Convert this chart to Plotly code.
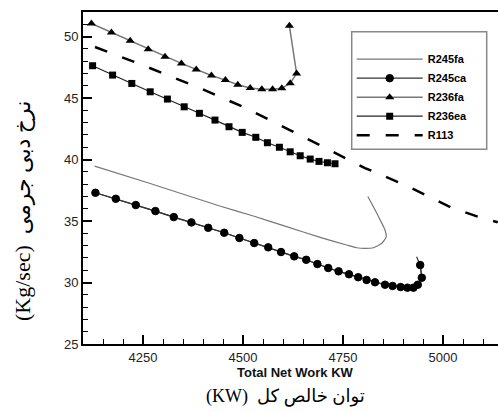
import plotly.graph_objects as go

# ---------------- data ----------------
r245fa_x = [4129, 4266, 4442, 4526, 4609, 4693, 4759, 4784, 4805, 4826, 4847, 4858, 4855, 4843, 4826, 4812]
r245fa_y = [39.47, 38.07, 36.22, 35.41, 34.54, 33.67, 33.05, 32.83, 32.78, 32.83, 33.19, 33.72, 34.27, 35.08, 36.17, 37.00]

r245ca_x = [4131, 4182, 4232, 4281, 4327, 4371, 4413, 4453, 4491, 4528, 4563, 4595, 4628, 4658, 4686,
            4713, 4739, 4765, 4788, 4809, 4830, 4855, 4874, 4894, 4911, 4926, 4937, 4947, 4943, 4934]
r245ca_y = [37.30, 36.81, 36.30, 35.81, 35.32, 34.89, 34.45, 34.05, 33.62, 33.21, 32.86, 32.48, 32.13, 31.85, 31.50,
            31.18, 30.91, 30.67, 30.43, 30.21, 30.02, 29.82, 29.72, 29.63, 29.58, 29.58, 29.82, 30.39, 31.42, 32.10]

r236fa_x = [4121, 4171, 4218, 4263, 4305, 4346, 4383, 4421, 4456, 4487, 4518, 4547, 4574, 4597, 4618, 4634, 4616]
r236fa_y = [51.07, 50.34, 49.66, 48.98, 48.36, 47.82, 47.33, 46.84, 46.46, 46.08, 45.82, 45.71, 45.71, 45.79, 46.20, 47.00, 50.88]

r236ea_x = [4124, 4174, 4222, 4268, 4311, 4353, 4391, 4430, 4465, 4498, 4532, 4561, 4591, 4618, 4643, 4668, 4690, 4711, 4730]
r236ea_y = [47.63, 46.87, 46.19, 45.51, 44.92, 44.29, 43.76, 43.21, 42.67, 42.21, 41.81, 41.37, 41.00, 40.63, 40.31, 40.04, 39.85, 39.74, 39.66]

r113_x = [4130, 4242, 4392, 4500, 4617, 4700, 4805, 4905, 5020, 5087, 5137]
r113_y = [49.15, 47.77, 45.81, 44.29, 42.40, 41.04, 39.31, 37.93, 36.11, 35.35, 34.90]

x_ticks = [4250, 4500, 4750, 5000]
y_ticks = [25, 30, 35, 40, 45, 50]

fig = go.Figure()
fig.add_trace(go.Scatter(x=r245fa_x, y=r245fa_y, mode="lines", name="<b>R245fa</b>",
                         line=dict(color="#777777", width=1.2, shape="spline", smoothing=0.6)))
# R245ca: line through all points, markers on all but the final line end
fig.add_trace(go.Scatter(x=r245ca_x, y=r245ca_y, mode="lines", showlegend=False,
                         line=dict(color="#333333", width=1.2), hoverinfo="skip"))
fig.add_trace(go.Scatter(x=r245ca_x[:-1], y=r245ca_y[:-1], mode="lines+markers", name="<b>R245ca</b>",
                         line=dict(color="#333333", width=1.2),
                         marker=dict(symbol="circle", size=7.5, color="#000000",
                                     line=dict(color="#000000", width=1))))
fig.add_trace(go.Scatter(x=r236fa_x, y=r236fa_y, mode="lines+markers", name="<b>R236fa</b>",
                         line=dict(color="#777777", width=1.5),
                         marker=dict(symbol="triangle-up", size=8, color="black")))
fig.add_trace(go.Scatter(x=r236ea_x, y=r236ea_y, mode="lines+markers", name="<b>R236ea</b>",
                         line=dict(color="#222222", width=1.2),
                         marker=dict(symbol="square", size=7, color="black")))
fig.add_trace(go.Scatter(x=r113_x, y=r113_y, mode="lines", name="<b>R113</b>",
                         line=dict(color="black", width=2.5, dash="13px,16px")))

axis_font = dict(family="Liberation Sans, Arial, sans-serif", size=13, color="#222222")

fig.update_xaxes(range=[4100, 5137.5], tickvals=x_ticks, ticks="inside", ticklen=9, tickwidth=2,
                 tickcolor="black", showline=True, linecolor="black", linewidth=2, mirror=True,
                 showgrid=False, zeroline=False, tickfont=axis_font,
                 minor=dict(dtick=50, tick0=4100, ticks="inside", ticklen=5, tickwidth=1, tickcolor="black"))
fig.update_yaxes(range=[25, 52], tickvals=y_ticks, ticks="inside", ticklen=9, tickwidth=2,
                 tickcolor="black", showline=True, linecolor="black", linewidth=2,
                 showgrid=False, zeroline=False, tickfont=axis_font,
                 minor=dict(dtick=1, tick0=25, ticks="inside", ticklen=5, tickwidth=1, tickcolor="black"))

# legend frame (drawn as a white box above the data, legend text sits on top of it)
box_x0, box_x1 = (351.7 - 83) / 415, (486.7 - 83) / 415
box_y1, box_y0 = 1 - (31.7 - 12) / 332, 1 - (149.3 - 12) / 332

fig.update_layout(
    width=498, height=412,
    margin=dict(l=83, r=0, t=12, b=68),
    paper_bgcolor="white", plot_bgcolor="white",
    showlegend=True,
    legend=dict(x=box_x0, y=box_y1, xanchor="left", yanchor="top",
                bgcolor="rgba(0,0,0,0)", borderwidth=0,
                font=dict(family="Liberation Sans, Arial, sans-serif", size=11, color="black"),
                itemwidth=66, tracegroupgap=0,
                title=dict(text=" ", font=dict(size=10))),
    shapes=[dict(type="rect", xref="paper", yref="paper", x0=box_x0, x1=box_x1, y0=box_y0, y1=box_y1,
                 fillcolor="white", line=dict(color="#888888", width=1.5), layer="above")],
    annotations=[
        dict(text="<b>Total Net Work KW</b>", xref="paper", yref="paper",
             x=(295 - 83) / 415, y=-(372 - 344) / 332, xanchor="center", yanchor="middle",
             showarrow=False, font=dict(family="Liberation Sans, Arial, sans-serif", size=13, color="#111111")),
        dict(text="(KW)  توان خالص کل", xref="paper", yref="paper",
             x=(285 - 83) / 415, y=-(396 - 344) / 332, xanchor="center", yanchor="middle",
             showarrow=False, font=dict(family="Liberation Serif, DejaVu Sans, serif", size=18, color="black")),
        dict(text="(Kg/sec)  نرخ دبی جرمی", xref="paper", yref="paper",
             x=-(83 - 22) / 415, y=(344 - 211) / 332, xanchor="center", yanchor="middle",
             textangle=-90, showarrow=False,
             font=dict(family="Liberation Serif, DejaVu Sans, serif", size=22, color="black")),
    ],
)

fig.write_html("out.html")
